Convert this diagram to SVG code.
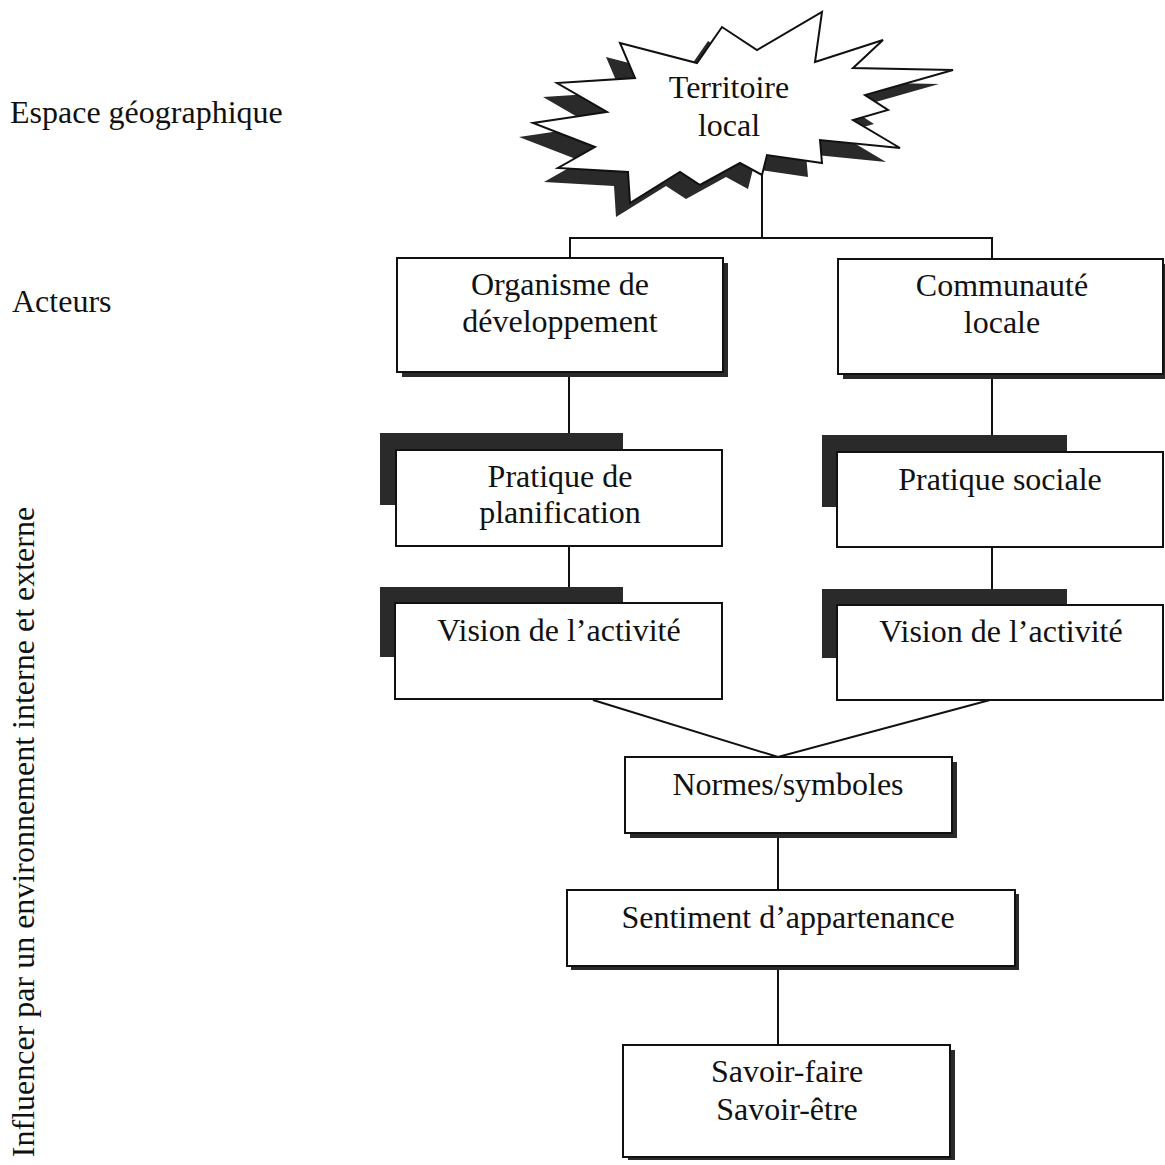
<svg xmlns="http://www.w3.org/2000/svg" width="1165" height="1165" viewBox="0 0 1165 1165">
  <style>
    text { font-family: "Liberation Serif", "Times New Roman", serif; font-size: 32px; fill: #111; }
    .c { text-anchor: middle; }
    .box { fill: #fff; stroke: #111; stroke-width: 2; }
    .sh { fill: #2a2a2a; }
    .ln { stroke: #111; stroke-width: 2; fill: none; }
    .star { fill: #fff; stroke: #111; stroke-width: 2; stroke-linejoin: miter; }
  </style>
  <defs>
    <polygon id="starShape" points="620,43 697,63 722,27 757,50 822,12 815,62 883,40 853,68 953,70 865,95 888,110 853,120 900,148 820,140 822,163 767,155 762,175 740,163 700,185 680,172 630,203 628,172 558,168 595,147 533,123 607,112 557,83 635,78"/>
  </defs>
  <rect width="1165" height="1165" fill="#fff"/>

  <g id="labels">
    <text x="10" y="123">Espace géographique</text>
    <text x="12" y="312">Acteurs</text>
    <text class="c" transform="translate(34,832) rotate(-90)" x="0" y="0">Influencer par un environnement interne et externe</text>
  </g>

  <g id="connectors">
    <line class="ln" x1="762" y1="150" x2="762" y2="238"/>
    <polyline class="ln" points="570,258 570,238 992,238 992,258"/>
    <line class="ln" x1="569" y1="372" x2="569" y2="450"/>
    <line class="ln" x1="992" y1="374" x2="992" y2="452"/>
    <line class="ln" x1="569" y1="546" x2="569" y2="603"/>
    <line class="ln" x1="992" y1="547" x2="992" y2="605"/>
    <polyline class="ln" points="593,700 778,757 990,700"/>
    <line class="ln" x1="778" y1="833" x2="778" y2="890"/>
    <line class="ln" x1="778" y1="966" x2="778" y2="1045"/>
  </g>

  <g id="territoire">
    <use href="#starShape" transform="translate(-14,14)" class="sh"/>
    <use href="#starShape" class="star"/>
    <text class="c" x="729" y="98">Territoire</text>
    <text class="c" x="729" y="136">local</text>
  </g>

  <g id="organisme">
    <rect class="sh" x="402" y="263" width="326" height="114"/>
    <rect class="box" x="397" y="258" width="326" height="114"/>
    <text class="c" x="560" y="295">Organisme de</text>
    <text class="c" x="560" y="332">développement</text>
  </g>

  <g id="communaute">
    <rect class="sh" x="843" y="264" width="325" height="115"/>
    <rect class="box" x="838" y="259" width="325" height="115"/>
    <text class="c" x="1002" y="296">Communauté</text>
    <text class="c" x="1002" y="333">locale</text>
  </g>

  <g id="pratique-planif">
    <rect class="sh" x="380" y="433" width="243" height="72"/>
    <rect class="box" x="396" y="450" width="326" height="96"/>
    <text class="c" x="560" y="487">Pratique de</text>
    <text class="c" x="560" y="523">planification</text>
  </g>

  <g id="pratique-sociale">
    <rect class="sh" x="822" y="435" width="245" height="72"/>
    <rect class="box" x="837" y="452" width="326" height="95"/>
    <text class="c" x="1000" y="490">Pratique sociale</text>
  </g>

  <g id="vision-gauche">
    <rect class="sh" x="380" y="587" width="243" height="70"/>
    <rect class="box" x="395" y="603" width="327" height="96"/>
    <text class="c" x="559" y="641">Vision de l’activité</text>
  </g>

  <g id="vision-droite">
    <rect class="sh" x="822" y="589" width="245" height="69"/>
    <rect class="box" x="837" y="605" width="326" height="95"/>
    <text class="c" x="1001" y="642">Vision de l’activité</text>
  </g>

  <g id="normes">
    <rect class="sh" x="630" y="762" width="327" height="76"/>
    <rect class="box" x="625" y="757" width="327" height="76"/>
    <text class="c" x="788" y="795">Normes/symboles</text>
  </g>

  <g id="sentiment">
    <rect class="sh" x="571" y="894" width="448" height="76"/>
    <rect class="box" x="567" y="890" width="448" height="76"/>
    <text class="c" x="788" y="928">Sentiment d’appartenance</text>
  </g>

  <g id="savoir">
    <rect class="sh" x="628" y="1050" width="327" height="110"/>
    <rect class="box" x="623" y="1045" width="327" height="112"/>
    <text class="c" x="787" y="1082">Savoir-faire</text>
    <text class="c" x="787" y="1120">Savoir-être</text>
  </g>
</svg>
